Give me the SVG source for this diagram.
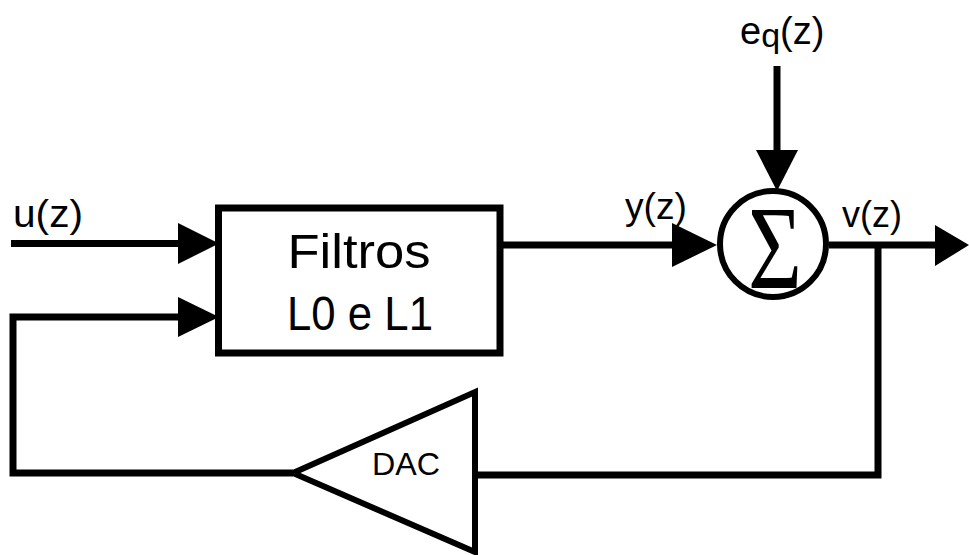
<svg xmlns="http://www.w3.org/2000/svg" width="969" height="555" viewBox="0 0 969 555">
<style>
.ln{stroke:#000;stroke-width:7;fill:none;stroke-linejoin:miter;stroke-linecap:butt}
.ah{fill:#000;stroke:none}
.lbl{font-family:"Liberation Sans","DejaVu Sans",sans-serif;fill:#000}
</style>
<rect width="969" height="555" fill="#fff"/>
<g id="connectors">
  <line class="ln" x1="11" y1="243.5" x2="182" y2="243.5"/>
  <polygon class="ah" points="178,223 219,243.5 178,264"/>
  <polyline class="ln" points="293,473 13,473 13,317 182,317"/>
  <polygon class="ah" points="178,297 219,317 178,337"/>
  <line class="ln" x1="500" y1="245" x2="676" y2="245"/>
  <polygon class="ah" points="672,223 717,245 672,267"/>
  <line class="ln" x1="777" y1="66" x2="777" y2="154"/>
  <polygon class="ah" points="756,150 777,191 798,150"/>
  <line class="ln" x1="829" y1="245" x2="938" y2="245"/>
  <polygon class="ah" points="935,225 969,245 935,266"/>
  <polyline class="ln" points="878,245 878,475 475,475"/>
</g>
<g id="filtros">
  <rect class="ln" x="218.5" y="208" width="281.5" height="145"/>
  <text class="lbl" x="359" y="268" font-size="48" text-anchor="middle" textLength="143" lengthAdjust="spacingAndGlyphs">Filtros</text>
  <text class="lbl" x="360" y="330" font-size="49" text-anchor="middle" textLength="146" lengthAdjust="spacingAndGlyphs">L0 e L1</text>
</g>
<g id="sum">
  <circle cx="773" cy="244" r="53" fill="#fff" stroke="#000" stroke-width="6"/>
  <text x="748" y="288" font-family="'Liberation Serif','DejaVu Serif',serif" font-size="118" textLength="54" lengthAdjust="spacingAndGlyphs">Σ</text>
</g>
<g id="dac">
  <polygon points="293,473 475,392 475,552" fill="#fff" stroke="#000" stroke-width="6" stroke-linejoin="miter"/>
  <text class="lbl" x="372" y="475" font-size="31" textLength="68" lengthAdjust="spacingAndGlyphs">DAC</text>
</g>
<g id="labels">
  <text class="lbl" x="13" y="227" font-size="38" textLength="70" lengthAdjust="spacingAndGlyphs">u(z)</text>
  <text class="lbl" x="625" y="219" font-size="36" textLength="62" lengthAdjust="spacingAndGlyphs">y(z)</text>
  <text class="lbl" x="842" y="227" font-size="36" textLength="60" lengthAdjust="spacingAndGlyphs">v(z)</text>
  <text class="lbl" x="740" y="44" font-size="38">e<tspan font-size="34" dy="3">q</tspan><tspan dy="-3">(z)</tspan></text>
</g>
</svg>
